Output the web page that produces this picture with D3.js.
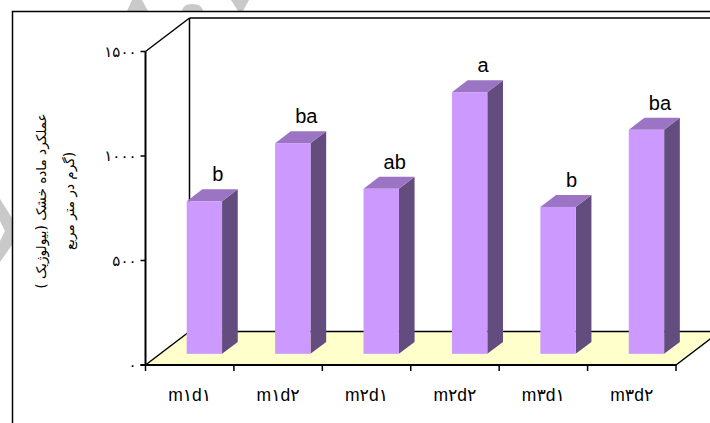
<!DOCTYPE html>
<html>
<head>
<meta charset="utf-8">
<script src="https://cdn.jsdelivr.net/npm/d3@7"></script>
<style>
  html, body { margin: 0; padding: 0; background: #fff; }
  svg { display: block; }
</style>
</head>
<body>
<svg id="chart" width="710" height="423"></svg>
<script>
// Treatments, dry matter yield (g/m²) and significance letters
const categories = ["m۱d۱", "m۱d۲", "m۲d۱", "m۲d۲", "m۳d۱", "m۳d۲"];
const yieldValues = [730, 1008, 790, 1252, 703, 1072];
const groupLetters = ["b", "ba", "ab", "a", "b", "ba"];
const yTicks = [0, 500, 1000, 1500];
const yTickLabels = ["۰", "۵۰۰", "۱۰۰۰", "۱۵۰۰"];
const yTitleLines = ["عملکرد ماده خشک (بیولوژیک )", "(گرم در متر مربع"];

const svg = d3.select("#chart");

// Faint logo fragments sitting behind the chart frame
const wm = svg.append("g").attr("fill", "#c9c9c9");
wm.append("polygon").attr("points", "127,11 148,11 142,0 132,0");
wm.append("path").attr("d", "M182,11 Q183,4 192,4 Q202,4 203,11 Z");
wm.append("polygon").attr("points", "231,0 249,0 243,11 238,11");
wm.append("polygon").attr("points", "0,199 12,218 12,245 0,262 0,241 5,231 0,221");

// Chart frame
svg.append("rect")
  .attr("x", 12.5).attr("y", 11.5)
  .attr("width", 760).attr("height", 440)
  .attr("fill", "#fff").attr("stroke", "#000").attr("stroke-width", 1.5);

// Oblique projection: the depth axis runs up and to the right
const depth = { dx: 44, dy: -33.5 };
const x0 = 145.5, x1 = 676, yBase = 365;

const x = d3.scaleBand()
  .domain(categories)
  .range([x0, x1])
  .paddingInner(0.6)
  .paddingOuter(0.3);

const xEdges = d3.scalePoint().domain(d3.range(categories.length + 1)).range([x0, x1]);

const y = d3.scaleLinear().domain([0, 1500]).range([yBase, 51.5]);

const P = (px, py, t) => [px + depth.dx * t, py + depth.dy * t];

// Floor
const floorPts = [P(x0, yBase, 0), P(x1, yBase, 0), P(x1, yBase, 1), P(x0, yBase, 1)];
svg.append("polygon")
  .attr("points", floorPts.map(p => p.join(",")).join(" "))
  .attr("fill", "#ffffcc").attr("stroke", "#000").attr("stroke-width", 1.5)
  .attr("stroke-linejoin", "round");

// Walls (left side wall and back wall outlines)
const walls = svg.append("g").attr("stroke", "#000").attr("stroke-width", 1.5).attr("fill", "none");
const topFront = [x0, y(1500)];
const topBack = P(x0, y(1500), 1);
const baseBack = P(x0, yBase, 1);
walls.append("line").attr("x1", topFront[0]).attr("y1", topFront[1]).attr("x2", topBack[0]).attr("y2", topBack[1]);
walls.append("line").attr("x1", topBack[0]).attr("y1", topBack[1]).attr("x2", baseBack[0]).attr("y2", baseBack[1]);
walls.append("line").attr("x1", topBack[0]).attr("y1", topBack[1]).attr("x2", P(x1, y(1500), 1)[0]).attr("y2", topBack[1]);
walls.append("line").attr("x1", x0).attr("y1", y(1500)).attr("x2", x0).attr("y2", yBase).attr("stroke-width", 2);

// Bars: front face, top face, right side face
const t1 = 1 / 3, t2 = 0.69;
const faceFront = "#cc99ff", faceTop = "#9b74c3", faceSide = "#634d7e";
const bars = svg.append("g");
categories.forEach((c, i) => {
  const v = yieldValues[i];
  const left = x(c), right = x(c) + x.bandwidth();
  const [fl, fb] = P(left, yBase, t1);
  const [fr] = P(right, yBase, t1);
  const ft = P(left, y(v), t1)[1];
  const [bl, bt] = P(left, y(v), t2);
  const [br] = P(right, y(v), t2);
  const bb = P(right, yBase, t2)[1];
  const g = bars.append("g");
  g.append("polygon")
    .attr("points", [[fr, fb], [br, bb], [br, bt], [fr, ft]].map(p => p.join(",")).join(" "))
    .attr("fill", faceSide);
  g.append("polygon")
    .attr("points", [[fl, ft], [fr, ft], [br, bt], [bl, bt]].map(p => p.join(",")).join(" "))
    .attr("fill", faceTop);
  g.append("rect")
    .attr("x", fl).attr("y", ft).attr("width", fr - fl).attr("height", fb - ft)
    .attr("fill", faceFront);
  g.append("text")
    .attr("x", (fl + fr) / 2 + 13.5).attr("y", bt - 8)
    .attr("text-anchor", "middle")
    .attr("font-family", "'Liberation Sans', Arial, sans-serif")
    .attr("font-size", 20).attr("fill", "#000")
    .text(groupLetters[i]);
});

// Front category axis
svg.append("line").attr("x1", x0 - 5).attr("y1", yBase).attr("x2", x1).attr("y2", yBase)
  .attr("stroke", "#000").attr("stroke-width", 2);
const xt = svg.append("g");
xEdges.domain().forEach(k => {
  xt.append("line").attr("x1", xEdges(k)).attr("x2", xEdges(k))
    .attr("y1", yBase).attr("y2", yBase + 6).attr("stroke", "#000").attr("stroke-width", 1.5);
});
categories.forEach(c => {
  xt.append("text")
    .attr("x", x(c) + x.bandwidth() / 2).attr("y", 401)
    .attr("text-anchor", "middle")
    .attr("font-family", "'Liberation Sans', 'DejaVu Sans', sans-serif")
    .attr("font-size", 17.5).attr("fill", "#000")
    .text(c);
});

// Value axis ticks and labels
const ya = svg.append("g");
yTicks.forEach((t, i) => {
  ya.append("line").attr("x1", x0 - 5).attr("x2", x0).attr("y1", y(t)).attr("y2", y(t))
    .attr("stroke", "#000").attr("stroke-width", 1.5);
  ya.append("text")
    .attr("x", x0 - 9).attr("y", y(t)).attr("dy", "0.35em")
    .attr("text-anchor", "end")
    .attr("font-family", "'DejaVu Sans', sans-serif")
    .attr("font-size", 15).attr("fill", "#000")
    .text(yTickLabels[i]);
});

// Value axis title, two rotated lines
const titleX = [46, 74];
yTitleLines.forEach((line, i) => {
  svg.append("text")
    .attr("transform", `translate(${titleX[i]},201) rotate(-90)`)
    .attr("text-anchor", "middle")
    .attr("direction", "rtl")
    .attr("font-family", "'DejaVu Sans', sans-serif")
    .attr("font-size", 13.6).attr("fill", "#000")
    .text(line);
});
</script>
</body>
</html>
